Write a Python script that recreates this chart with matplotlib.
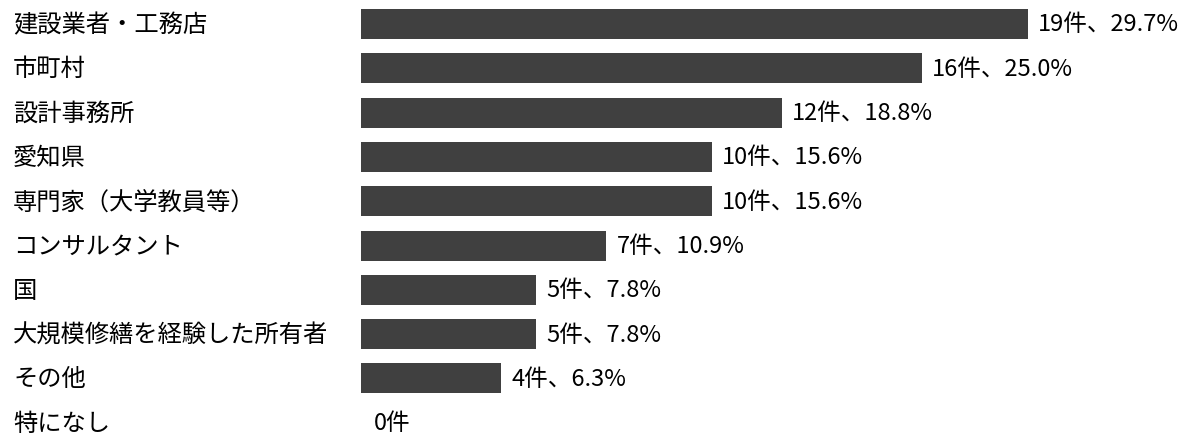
import matplotlib
matplotlib.use("Agg")
import matplotlib.pyplot as plt
import matplotlib.transforms as mtransforms

plt.rcParams['font.family'] = ['Noto Sans CJK JP', 'DejaVu Sans']

# === Data ===
categories = [
    "建設業者・工務店",
    "市町村",
    "設計事務所",
    "愛知県",
    "専門家（大学教員等）",
    "コンサルタント",
    "国",
    "大規模修繕を経験した所有者",
    "その他",
    "特になし",
]
counts = [19, 16, 12, 10, 10, 7, 5, 5, 4, 0]
percents = [29.7, 25.0, 18.8, 15.6, 15.6, 10.9, 7.8, 7.8, 6.3, None]

# === Figure geometry (pixels) ===
W, H, DPI = 1191, 435, 100
x0_px = 360.7        # where a bar starts
unit_px = 35.1       # pixels per count
row0_px = 25.0       # centre of first row from top
row_step = 44.3      # row spacing
bar_px = 30.0        # bar thickness

fig = plt.figure(figsize=(W / DPI, H / DPI), dpi=DPI)
ax = fig.add_axes([0, 0, 1, 1])
ax.set_xlim(-x0_px / unit_px, (W - x0_px) / unit_px)
ax.set_ylim((H - row0_px) / row_step, -row0_px / row_step)
ax.axis('off')

ypos = list(range(len(categories)))
ax.barh(ypos, counts, height=bar_px / row_step, left=0, color='#404040')

# category names, left aligned near the figure edge
trans = mtransforms.blended_transform_factory(fig.transFigure, ax.transData)
for y, name in zip(ypos, categories):
    ax.text(13 / W, y, name, transform=trans, ha='left', va='center',
            fontsize=17.5, color='black')

# value labels at the end of each bar
for y, c, p in zip(ypos, counts, percents):
    label = f"{c}件" if p is None else f"{c}件、{p:.1f}%"
    ax.annotate(label, xy=(c, y), xytext=(10 if c else 13, 0),
                textcoords='offset pixels', ha='left', va='center',
                fontsize=17, color='black')

fig.savefig("out.png", dpi=DPI)
